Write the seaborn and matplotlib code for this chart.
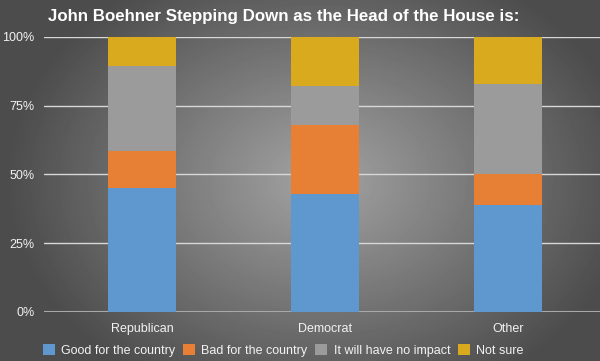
import numpy as np
import pandas as pd
import matplotlib.pyplot as plt
import seaborn as sns
from matplotlib.patches import Patch

sns.set_theme(style="white")
plt.rcParams['font.family'] = ['Liberation Sans', 'DejaVu Sans']

# data (percent of respondents)
parties = ['Republican', 'Democrat', 'Other']
good = [45, 43, 39]
bad = [13.5, 25, 11]
no_impact = [31, 14, 33]
not_sure = [10.5, 18, 17]
series_names = ['Good for the country', 'Bad for the country', 'It will have no impact', 'Not sure']
colors = ['#5f98cf', '#e77f35', '#9b9b9b', '#d9aa1d']

df = pd.DataFrame({'Party': parties, 'Good for the country': good,
                   'Bad for the country': bad, 'It will have no impact': no_impact,
                   'Not sure': not_sure})

fig = plt.figure(figsize=(6, 3.61), dpi=100)

# radial gradient background
bg = fig.add_axes([0, 0, 1, 1], zorder=-1)
yy, xx = np.mgrid[0:361, 0:600]
r = np.sqrt(((xx - 320) / 330) ** 2 + ((yy - 180) / 250) ** 2)
shade = np.clip(0.64 - 0.36 * r, 0.3, 0.7)
bg.imshow(shade, cmap='gray', vmin=0, vmax=1, aspect='auto')
bg.axis('off')

ax = fig.add_axes([44 / 600, 1 - 312 / 361, 556 / 600, 275 / 361])
ax.patch.set_alpha(0)

# stacked bars: draw cumulative totals from top to bottom
cum = df[series_names].cumsum(axis=1)
for name, col in reversed(list(zip(series_names, colors))):
    sns.barplot(x=np.arange(len(parties)), y=cum[name].values, color=col,
                width=0.37, ax=ax, native_scale=True, saturation=1,
                linewidth=0, edgecolor='none', zorder=3)

ax.set_xlim(-0.536, 2.503)
ax.set_ylim(0, 100)
ax.set_yticks([0, 25, 50, 75, 100])
ax.set_yticklabels(['0%', '25%', '50%', '75%', '100%'])
ax.set_xticks(range(len(parties)))
ax.set_xticklabels(parties)
ax.tick_params(axis='both', colors='#f2f2f2', labelsize=9, length=0)
ax.tick_params(axis='y', pad=7)
ax.tick_params(axis='x', pad=8)
ax.grid(axis='y', color='#d8d8d8', linewidth=1, zorder=1)
ax.set_axisbelow(True)
for s in ax.spines.values():
    s.set_visible(False)
ax.axhline(0, color='#a8a8a8', linewidth=1.5, zorder=2)
ax.set_xlabel('')
ax.set_ylabel('')

fig.text(0.473, 0.955, 'John Boehner Stepping Down as the Head of the House is:',
         ha='center', va='center', color='white', fontsize=12.2, fontweight='bold')

handles = [Patch(facecolor=c, edgecolor='none') for c in colors]
fig.legend(handles, series_names, loc='center', bbox_to_anchor=(0.472, 0.03), ncol=4,
           frameon=False, fontsize=9, labelcolor='#f2f2f2', handlelength=0.95,
           handleheight=0.95, handletextpad=0.5, columnspacing=0.65)

fig.savefig('out.png', dpi=100)
